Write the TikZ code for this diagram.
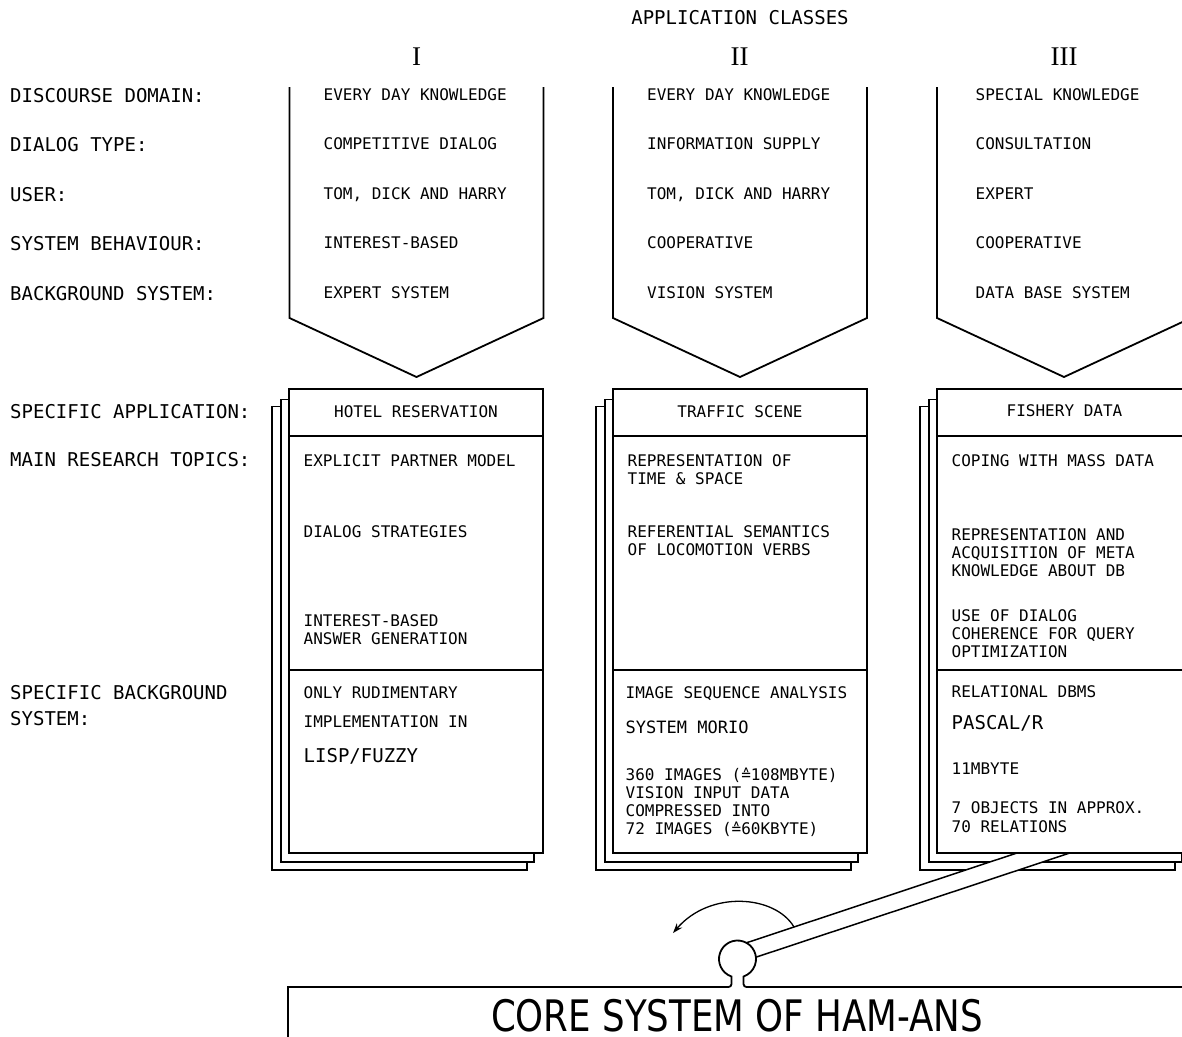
\documentclass[tikz,border=0pt]{standalone}
\usepackage{fontspec}
\usetikzlibrary{arrows.meta}
\newfontfamily\mf{DejaVu Sans Mono}
\newfontfamily\rf{Liberation Serif}
\newfontfamily\cf[FakeStretch=0.82]{DejaVu Sans}
\begin{document}
\begin{tikzpicture}[x=1pt,y=-1pt,
  t/.style={anchor=west,inner sep=0pt,text height=11.66pt,text depth=0pt,font=\mf\fontsize{16}{18}\selectfont},
  tm/.style={anchor=west,inner sep=0pt,text height=12.4pt,text depth=0pt,font=\mf\fontsize{17}{20}\selectfont},
  tl/.style={anchor=west,inner sep=0pt,text height=13.85pt,text depth=0pt,font=\mf\fontsize{19}{22}\selectfont},
  roman/.style={inner sep=0pt,text height=17.9pt,text depth=0pt,font=\rf\fontsize{27}{30}\selectfont},
  corefont/.style={inner sep=0pt,text height=31.6pt,text depth=0pt,font=\cf\fontsize{43.4}{50}\selectfont},
  box/.style={draw,line width=1.8pt,fill=white},
  sheet/.style={draw,line width=1.2pt,fill=white},
  chev/.style={draw,line width=1.8pt,line join=miter},
  sep/.style={draw,line width=1.5pt},
  lever/.style={draw,line width=1.5pt},
  turn/.style={draw,line width=1.3pt,-{Stealth[length=10pt,width=7pt]}}]
\useasboundingbox (0,0) rectangle (1182,1036);
\clip (0,0) rectangle (1182,1036);
\fill[white] (0,0) rectangle (1182,1036);

% title and roman numerals
\node[tl,anchor=center] (title) at (740,18) {APPLICATION CLASSES};
\node[roman] (rI) at (416.5,57) {I};
\node[roman] (rII) at (739.5,57) {II};
\node[roman] (rIII) at (1064,57) {III};

% chevrons
\foreach \x in {289.5,613,937}
  \draw[chev] (\x,87) -- (\x,318) -- ({\x+127},377) -- ({\x+254},318) -- ({\x+254},87);

% row labels
\foreach \s [count=\i] in {DISCOURSE DOMAIN:, DIALOG TYPE:, USER:, SYSTEM BEHAVIOUR:, BACKGROUND SYSTEM:}
  \node[tl] (lab\i) at (10,{45.5+49.6*\i}) {\s};
\node[tl] (lab6) at (10,412) {SPECIFIC APPLICATION:};
\node[tl] (lab7) at (10,460) {MAIN RESEARCH TOPICS:};
\node[tl] (lab8) at (10,693) {SPECIFIC BACKGROUND};
\node[tl] (lab9) at (10,719) {SYSTEM:};

% chevron texts
\foreach \s [count=\i] in {EVERY DAY KNOWLEDGE, COMPETITIVE DIALOG, {TOM, DICK AND HARRY}, INTEREST-BASED, EXPERT SYSTEM}
  \node[t] (cI\i) at (323.5,{44.7+49.6*\i}) {\s};
\foreach \s [count=\i] in {EVERY DAY KNOWLEDGE, INFORMATION SUPPLY, {TOM, DICK AND HARRY}, COOPERATIVE, VISION SYSTEM}
  \node[t] (cII\i) at (647,{44.7+49.6*\i}) {\s};
\foreach \s [count=\i] in {SPECIAL KNOWLEDGE, CONSULTATION, EXPERT, COOPERATIVE, DATA BASE SYSTEM}
  \node[t] (cIII\i) at (975.5,{44.7+49.6*\i}) {\s};

% stacked boxes
\foreach \x in {289,613,937} {
  \draw[sheet] ({\x-17},406.5) rectangle ({\x+238},870);
  \draw[sheet] ({\x-8},399.5) rectangle ({\x+245},862);
  \draw[box] (\x,389) rectangle ({\x+254},853);
  \draw[sep] (\x,436) -- ({\x+254},436);
  \draw[sep] (\x,670) -- ({\x+254},670);
}

% box headers
\node[t,anchor=center] (hI) at (416,412) {HOTEL RESERVATION};
\node[t,anchor=center] (hII) at (740,412) {TRAFFIC SCENE};
\node[t,anchor=center] (hIII) at (1064.5,411) {FISHERY DATA};

% box I
\node[t] (bI1) at (303.5,461) {EXPLICIT PARTNER MODEL};
\node[t] (bI2) at (303.5,532) {DIALOG STRATEGIES};
\node[t] (bI3) at (303.5,621) {INTEREST-BASED};
\node[t] (bI4) at (303.5,639) {ANSWER GENERATION};
\node[t] (bI5) at (303.5,693) {ONLY RUDIMENTARY};
\node[t] (bI6) at (303.5,722) {IMPLEMENTATION IN};
\node[tl] (bI7) at (303.5,756) {LISP/FUZZY};

% box II
\node[t] (bII1) at (627.5,461) {REPRESENTATION OF};
\node[t] (bII2) at (627.5,479) {TIME \& SPACE};
\node[t] (bII3) at (627.5,532) {REFERENTIAL SEMANTICS};
\node[t] (bII4) at (627.5,550) {OF LOCOMOTION VERBS};
\node[t] (bII5) at (625.5,693) {IMAGE SEQUENCE ANALYSIS};
\node[tm] (bII6) at (625.5,727) {SYSTEM MORIO};
\node[t] (bII7) at (625.5,775) {360 IMAGES (≙108MBYTE)};
\node[t] (bII8) at (625.5,793) {VISION INPUT DATA};
\node[t] (bII9) at (625.5,811) {COMPRESSED INTO};
\node[t] (bII10) at (625.5,829) {72 IMAGES (≙60KBYTE)};

% box III
\node[t] (bIII1) at (951.5,461) {COPING WITH MASS DATA};
\node[t] (bIII2) at (951.5,535) {REPRESENTATION AND};
\node[t] (bIII3) at (951.5,553) {ACQUISITION OF META};
\node[t] (bIII4) at (951.5,571) {KNOWLEDGE ABOUT DB};
\node[t] (bIII5) at (951.5,616) {USE OF DIALOG};
\node[t] (bIII6) at (951.5,634) {COHERENCE FOR QUERY};
\node[t] (bIII7) at (951.5,652) {OPTIMIZATION};
\node[t] (bIII8) at (951.5,692) {RELATIONAL DBMS};
\node[tl] (bIII9) at (951.5,723) {PASCAL/R};
\node[t] (bIII10) at (951.5,769) {11MBYTE};
\node[t] (bIII11) at (951.5,808) {7 OBJECTS IN APPROX.};
\node[t] (bIII12) at (951.5,827) {70 RELATIONS};

% lever
\coordinate (u0) at (746.4,942.8);
\coordinate (l0) at (755.9,957.2);
\coordinate (u1) at (1016.9,853);
\coordinate (l1) at (1069.8,853);
\fill[white] (u0) -- (u1) -- (l1) -- (l0) -- cycle;
\draw[lever] (u0) -- (u1);
\draw[lever] (l0) -- (l1);
\draw[line width=2.6pt] (u1) -- (l1);

% core box with knob
\draw[line width=1.8pt] (288,1045) -- (288,987) [rounded corners=3pt] -- (731.5,987) [sharp corners] -- (731.5,976.5)
  arc[start angle=108.9,end angle=431.1,radius=18.5] [rounded corners=3pt] -- (743.5,987) [sharp corners] -- (1195,987);
\node[corefont] (core) at (737,1016) {CORE SYSTEM OF HAM-ANS};

% turning arrow
\coordinate (ts) at (794,927);
\coordinate (te) at (673,933);
\draw[turn] (ts) .. controls (775,895) and (710,890) .. (te);
\end{tikzpicture}
\end{document}
